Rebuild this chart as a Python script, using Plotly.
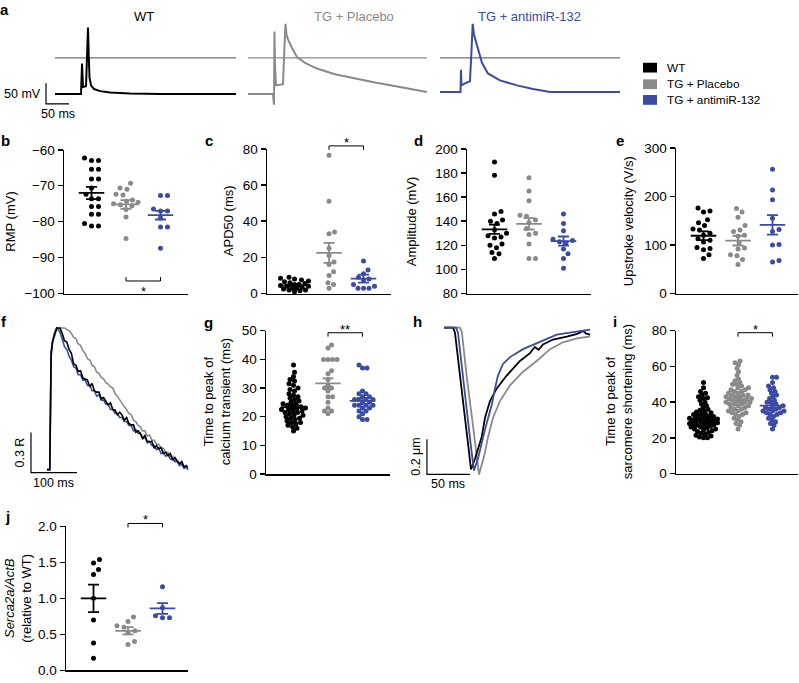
import plotly.graph_objects as go

W, H = 799, 683
BLACK = "#000000"
GRAY = "#8a8a8a"
BLUE = "#3b4ba5"
FONT = "Liberation Sans, Arial, Helvetica, sans-serif"

groups = ["WT", "TG + Placebo", "TG + antimiR-132"]
colors = [BLACK, GRAY, BLUE]

# ---------------- a: action potentials (ms, mV) ----------------
ap_wt_t = [0, 56.5, 58.7, 60.9, 67.4, 70.7, 71.7, 73.3, 75.0, 78.3, 84.8, 97.8, 119.6, 163.0, 228.3, 393.5]
ap_wt_v = [-88, -88, -14, -71, -69, 29, 74, 5, -48, -67, -76, -81, -84.5, -87, -88, -88]
ap_pl_t = [0, 54.4, 56.5, 57.6, 58.7, 60.9, 76.1, 79.4, 81.5, 83.7, 87.0, 95.7, 106.5, 123.9, 150.0, 189.1, 221.7, 276.1, 330.4, 389.1]
ap_pl_v = [-88, -88, -114, 64, -19, -67, -64, 29, 83, 57, 45, 24, 2, -12, -26, -40, -48, -60, -71, -83]
ap_am_t = [0, 44.6, 45.7, 46.7, 54.3, 65.2, 68.5, 71.1, 73.9, 80.4, 91.3, 104.3, 130.4, 167.4, 202.2, 239.1, 391.3]
ap_am_v = [-83, -83, -29, -67, -62, -57, 17, 83, 57, 29, -12, -38, -55, -67, -76, -83, -83]
ap_ref_mV = 0
ap_bar_ms, ap_bar_mV = 50, 50

# ---------------- f: calcium transients (ms, R) ----------------
ca_t = [0, 6, 7.5, 9, 12, 16, 21, 28,
        33, 38, 43, 48, 53, 58, 63, 68, 73, 78, 83, 88, 93, 98, 103, 108, 113, 118, 123, 128,
        133, 138, 143, 148, 153, 158, 163, 168, 173, 178, 183, 188, 193, 198, 203, 208, 213, 218,
        223, 228, 233, 238, 243, 248, 253, 258, 263, 268, 273, 278, 283, 288, 293, 298, 303, 306]
ca_wt = [1.00, 1.00, 1.45, 1.88, 1.96, 2.00, 2.06, 2.06,
         2.02, 1.965, 1.955, 1.90, 1.87, 1.79, 1.78, 1.735, 1.74, 1.685, 1.68, 1.67, 1.62, 1.645, 1.59, 1.58, 1.58, 1.53, 1.54, 1.515,
         1.485, 1.50, 1.45, 1.445, 1.41, 1.43, 1.41, 1.37, 1.39, 1.345, 1.335, 1.335, 1.28, 1.29, 1.27, 1.235, 1.255, 1.21,
         1.21, 1.21, 1.16, 1.18, 1.155, 1.165, 1.12, 1.13, 1.105, 1.12, 1.07, 1.09, 1.065, 1.045, 1.06, 1.02, 1.03, 1.015]
ca_pl = [1.00, 1.00, 1.42, 1.85, 1.95, 2.00, 2.05, 2.06,
         2.06, 2.06, 2.05, 2.04, 2.02, 1.99, 1.98, 1.94, 1.93, 1.89, 1.87, 1.83, 1.82, 1.78, 1.77, 1.73, 1.72, 1.69, 1.68, 1.65,
         1.64, 1.62, 1.61, 1.57, 1.55, 1.52, 1.50, 1.47, 1.45, 1.42, 1.41, 1.37, 1.36, 1.33, 1.32, 1.29, 1.29, 1.25,
         1.26, 1.22, 1.22, 1.19, 1.19, 1.16, 1.16, 1.13, 1.13, 1.10, 1.10, 1.07, 1.07, 1.04, 1.05, 1.02, 1.02, 1.00]
ca_am = [1.00, 1.00, 1.40, 1.85, 1.95, 2.02, 2.06, 2.03,
         1.98, 1.92, 1.90, 1.85, 1.82, 1.77, 1.76, 1.71, 1.71, 1.67, 1.67, 1.63, 1.63, 1.59, 1.59, 1.55, 1.56, 1.52, 1.52, 1.49,
         1.49, 1.45, 1.45, 1.42, 1.42, 1.39, 1.39, 1.36, 1.36, 1.33, 1.33, 1.29, 1.30, 1.27, 1.27, 1.23, 1.24, 1.20,
         1.21, 1.18, 1.18, 1.15, 1.16, 1.12, 1.13, 1.10, 1.11, 1.08, 1.08, 1.06, 1.06, 1.03, 1.04, 1.01, 1.02, 1.00]
ca_bar_ms, ca_bar_R = 100, 0.3

# ---------------- h: sarcomere length (ms, um) ----------------
sl_wt_t = [0, 10.5, 12.8, 18.6, 24.4, 29.1, 31.4, 36.1, 43.8, 47.7, 53.5, 61.3, 72.9, 88.4, 100.0, 105.5, 110.0, 115.1, 126.8, 142.7, 155.0, 161.7, 165.0, 169.8]
sl_wt = [1.800, 1.800, 1.772, 1.511, 1.288, 1.094, 0.994, 1.055, 1.177, 1.288, 1.383, 1.455, 1.528, 1.611, 1.655, 1.690, 1.675, 1.705, 1.733, 1.750, 1.765, 1.782, 1.768, 1.761]
sl_pl_t = [0, 18.6, 20.9, 26.7, 32.6, 37.2, 40.7, 46.5, 51.2, 57.0, 65.1, 76.8, 91.9, 107.8, 123.3, 138.4, 154.3, 169.8]
sl_pl = [1.800, 1.800, 1.772, 1.511, 1.288, 1.094, 0.966, 1.066, 1.177, 1.288, 1.383, 1.472, 1.550, 1.611, 1.678, 1.717, 1.739, 1.750]
sl_am_t = [0, 14.0, 16.3, 22.1, 27.9, 31.4, 34.9, 39.5, 47.7, 55.5, 59.3, 62.8, 68.6, 76.8, 91.9, 111.6, 131.1, 154.3, 169.8]
sl_am = [1.800, 1.800, 1.772, 1.511, 1.288, 1.122, 0.988, 1.055, 1.222, 1.361, 1.455, 1.528, 1.594, 1.633, 1.678, 1.722, 1.761, 1.778, 1.789]
sl_bar_ms, sl_bar_um = 50, 0.2

# ---------------- scatter panels ----------------
rmp_wt = [-62.3, -63.0, -63.0, -65.4, -65.4, -68.1, -68.1, -70.6, -72.4, -73.6, -73.6, -75.8, -75.8, -77.9, -77.9, -80.5, -81.2, -81.2]
rmp_pl = [-69.3, -70.6, -71.0, -72.4, -72.6, -74.0, -74.3, -74.6, -75.0, -75.3, -75.6, -76.6, -78.7, -84.7]
rmp_am = [-72.7, -72.7, -76.5, -77.0, -77.0, -79.0, -81.5, -81.5, -87.4]
rmp_mean = [-72.0, -75.2, -78.2]
rmp_sem = [1.7, 1.2, 1.2]

apd_wt = [9.0, 8.5, 8.0, 7.5, 7.0, 6.5, 6.0, 5.5, 5.0, 5.0, 4.5, 4.0, 4.0, 3.5, 3.0, 3.0, 2.5, 2.0, 2.0, 1.5, 1.0]
apd_pl = [76.5, 51.0, 34.0, 33.0, 25.0, 21.0, 17.5, 16.0, 12.0, 10.0, 6.0, 5.0, 3.0]
apd_am = [18.0, 13.0, 11.0, 9.0, 8.0, 7.5, 5.0, 4.0, 3.0, 3.0, 3.0]
apd_mean = [4.5, 22.5, 8.3]
apd_sem = [0.6, 5.5, 2.2]

amp_wt = [189, 178, 148, 146, 141, 140, 138, 133, 130, 128, 127, 126, 121, 120, 118, 114, 113, 109]
amp_pl = [176, 165, 157, 145, 144, 141, 139, 134, 130, 129, 121, 109, 109]
amp_am = [146, 138, 132, 125, 124, 123, 122, 117, 113, 109, 101]
amp_mean = [133.3, 137.8, 123.5]
amp_sem = [3.8, 4.7, 3.8]

vel_wt = [176, 170, 168, 152, 146, 140, 133, 131, 124, 120, 113, 110, 106, 95, 93, 90, 80, 72]
vel_pl = [175, 168, 157, 140, 131, 128, 120, 118, 105, 94, 92, 80, 78, 70, 60]
vel_am = [256, 213, 193, 155, 132, 128, 101, 100, 68, 65]
vel_mean = [119, 109, 141.5]
vel_sem = [9, 10, 20]

cat_wt = [38, 35.5, 34, 33, 32.5, 31.5, 31, 30, 29.5, 29, 28, 27.5, 27, 26.5, 26, 25.5, 25, 24.5, 24.5, 24,
          23.5, 23.5, 23, 23, 22.5, 22.5, 22, 22, 21.5, 21.5, 21, 20.5, 20.5, 20, 19.5, 19.5, 19, 18.5, 18, 18,
          17.5, 17, 16.5, 16, 15]
cat_pl = [45, 44, 40, 40, 40, 40, 36, 35, 33, 31, 30, 30, 29, 27, 27, 25, 23, 22, 22, 21]
cat_am = [38, 37, 37, 29, 28, 28, 27, 27, 26, 26, 26, 26, 25, 25, 24, 24, 24, 24, 23, 23, 22, 22, 21, 20, 19, 19]
cat_mean = [23.3, 31.6, 25.5]
cat_sem = [0.8, 1.8, 1.1]

sar_wt = [51, 48, 46, 45, 44, 43, 42.5, 42, 41, 40, 39, 38, 37, 36, 35.5, 35, 34.5, 34, 33.5, 33,
          33, 32.5, 32, 32, 31.5, 31, 31, 30.5, 30.5, 30, 30, 29.5, 29.5, 29, 29, 28.5, 28.5, 28, 28, 27.5,
          27.5, 27, 27, 26.5, 26, 26, 25.5, 25, 25, 24.5, 24, 23.5, 23, 22.5, 22, 21.5, 21, 20.5, 20, 20]
sar_pl = [63, 62, 61, 59, 57, 55, 53, 52, 51, 50, 50, 49, 48, 48, 47, 47, 46, 46, 45, 45, 44, 44, 44, 43, 43, 43,
          42, 42, 42, 41, 41, 41, 40, 40, 40, 39, 39, 39, 38, 38, 37, 37, 36, 36, 35, 35, 34, 34, 33, 33, 32, 31,
          30, 29, 28, 27, 25]
sar_am = [54, 54, 51, 49, 48, 47, 46, 45, 44, 43, 42, 41, 40, 40, 39, 38, 38, 37, 37, 36, 36, 35, 35, 35, 34, 34,
          33, 33, 32, 31, 30, 29, 28, 27, 25]
sar_mean = [30.5, 41.0, 38.0]
sar_sem = [1.0, 1.2, 1.3]

ser_wt = [1.54, 1.49, 1.40, 1.33, 1.00, 0.70, 0.38, 0.17]
ser_pl = [0.74, 0.68, 0.62, 0.60, 0.55, 0.52, 0.40, 0.36]
ser_am = [1.16, 0.87, 0.76, 0.73, 0.73]
ser_mean = [1.00, 0.55, 0.86]
ser_sem = [0.19, 0.05, 0.075]

# ==========================================================
fig = go.Figure()
layout = dict(width=W, height=H, margin=dict(l=0, r=0, t=0, b=0, pad=0), autosize=False,
              paper_bgcolor="white", plot_bgcolor="white", showlegend=False,
              font=dict(family=FONT, color="black", size=13))
annotations = []
shapes = []
_n = [0]


def new_axes(xpx, ypx, xr, yr):
    _n[0] += 1
    n = _n[0]
    xn = "x" if n == 1 else f"x{n}"
    yn = "y" if n == 1 else f"y{n}"
    xa = dict(domain=[xpx[0] / W, xpx[1] / W], range=xr, anchor=yn, visible=False, fixedrange=True)
    ya = dict(domain=[1 - ypx[1] / H, 1 - ypx[0] / H], range=yr, anchor=xn, visible=False, fixedrange=True)
    layout["xaxis" if n == 1 else f"xaxis{n}"] = xa
    layout["yaxis" if n == 1 else f"yaxis{n}"] = ya
    return xn, yn, xa, ya


def to_paper(xa, ya, x, y):
    xd, xr = xa["domain"], xa["range"]
    yd, yr = ya["domain"], ya["range"]
    px = xd[0] + (x - xr[0]) / (xr[1] - xr[0]) * (xd[1] - xd[0])
    py = yd[0] + (y - yr[0]) / (yr[1] - yr[0]) * (yd[1] - yd[0])
    return px, py


def line(xn, yn, x, y, color, width):
    fig.add_trace(go.Scatter(x=x, y=y, mode="lines", line=dict(color=color, width=width),
                             xaxis=xn, yaxis=yn, hoverinfo="skip", cliponaxis=False))


def pann(text, xpx, ypx, size=13, color="black", angle=0, xanchor="center", yanchor="middle", bold=False):
    if bold:
        text = f"<b>{text}</b>"
    annotations.append(dict(text=text, x=xpx / W, y=1 - ypx / H, xref="paper", yref="paper",
                            showarrow=False, font=dict(size=size, color=color, family=FONT),
                            textangle=angle, xanchor=xanchor, yanchor=yanchor))


# ---------- panel a ----------
AP_Y = (8, 112)
AP_YR = [-142.9, 104.8]
xa_specs = [((38, 238), [-37.0, 397.8]), ((246, 430), [-4.3, 395.7]), ((438, 622), [-4.3, 395.7])]
ap_sets = [(ap_wt_t, ap_wt_v), (ap_pl_t, ap_pl_v), (ap_am_t, ap_am_v)]
ref_colors = ["#707070", GRAY, "#707070"]
ap_axes = []
for (xpx, xr), (tt, vv), col, rc in zip(xa_specs, ap_sets, colors, ref_colors):
    xn, yn, _, _ = new_axes(xpx, AP_Y, xr, AP_YR)
    ap_axes.append((xn, yn))
    line(xn, yn, [min(tt), max(tt)], [ap_ref_mV, ap_ref_mV], rc, 1.3)
    line(xn, yn, tt, vv, col, 2.0)

xn, yn = ap_axes[0]
bx0, by0 = -19.6, -111.9
line(xn, yn, [bx0, bx0, bx0 + ap_bar_ms], [by0 + ap_bar_mV, by0, by0], "black", 1.2)
annotations.append(dict(text="50 mV", x=bx0, y=by0 + ap_bar_mV / 2, xref=xn, yref=yn, showarrow=False,
                        xanchor="right", yanchor="middle", xshift=-3, font=dict(size=12.5)))
annotations.append(dict(text="50 ms", x=bx0 + ap_bar_ms / 2, y=by0, xref=xn, yref=yn, showarrow=False,
                        xanchor="center", yanchor="top", yshift=-1, font=dict(size=12.5)))

pann("WT", 144, 10, size=13, color=BLACK)
pann("TG + Placebo", 354, 10, size=13, color=GRAY)
pann("TG + antimiR-132", 529, 10, size=13, color=BLUE)

for (yc, col, name) in [(62, BLACK, groups[0]), (79, GRAY, groups[1]), (95, BLUE, groups[2])]:
    shapes.append(dict(type="rect", xref="paper", yref="paper", x0=643 / W, x1=657 / W,
                       y0=1 - (yc + 5) / H, y1=1 - (yc - 5) / H, fillcolor=col, line=dict(width=0)))
    pann(name, 665, yc, size=11.8, xanchor="left")

# ---------- panel f ----------
xn, yn, _, _ = new_axes((10, 200), (320, 495), [-80.4, 332.6], [0.839, 2.120])
line(xn, yn, ca_t, ca_pl, GRAY, 1.6)
line(xn, yn, ca_t, ca_am, BLUE, 1.6)
line(xn, yn, ca_t, ca_wt, BLACK, 1.6)
fx0, fy0 = -34.8, 0.978
line(xn, yn, [fx0, fx0, fx0 + ca_bar_ms], [fy0 + ca_bar_R, fy0, fy0], "black", 1.2)
annotations.append(dict(text="0.3 R", x=fx0, y=fy0 + ca_bar_R / 2, xref=xn, yref=yn, showarrow=False,
                        xanchor="right", yanchor="middle", xshift=-2, textangle=-90, font=dict(size=12.5)))
annotations.append(dict(text="100 ms", x=fx0 + ca_bar_ms / 2, y=fy0, xref=xn, yref=yn, showarrow=False,
                        xanchor="center", yanchor="top", yshift=-1, font=dict(size=12.5)))

# ---------- panel h ----------
xn, yn, _, _ = new_axes((410, 600), (320, 495), [-39.5, 181.4], [0.871, 1.844])
line(xn, yn, sl_pl_t, sl_pl, GRAY, 1.8)
line(xn, yn, sl_wt_t, sl_wt, BLACK, 1.8)
line(xn, yn, sl_am_t, sl_am, BLUE, 1.8)
hx0, hy0 = -19.8, 0.966
line(xn, yn, [hx0, hx0, hx0 + sl_bar_ms], [hy0 + sl_bar_um, hy0, hy0], "black", 1.2)
annotations.append(dict(text="0.2 μm", x=hx0, y=hy0 + sl_bar_um / 2, xref=xn, yref=yn, showarrow=False,
                        xanchor="right", yanchor="middle", xshift=-2, textangle=-90, font=dict(size=12.5)))
annotations.append(dict(text="50 ms", x=hx0 + sl_bar_ms / 2, y=hy0, xref=xn, yref=yn, showarrow=False,
                        xanchor="center", yanchor="top", yshift=-1, font=dict(size=12.5)))

# ---------- dot plots ----------
PPU_X = 34.5
LEAD = 27.5


def swarm(vals, ppu_y, dmin, cap):
    order = sorted(range(len(vals)), key=lambda i: vals[i])
    cands = [0.0]
    k = 1
    while k * 0.5 <= cap:
        cands += [k * 0.5, -k * 0.5]
        k += 1
    placed = []
    off = [0.0] * len(vals)
    for i in order:
        y = vals[i] * ppu_y
        chosen, bestd, bestc = None, -1, 0.0
        for c in cands:
            dm = min([((c - px) ** 2 + (y - py) ** 2) ** 0.5 for px, py in placed] or [1e9])
            if dm >= dmin:
                chosen = c
                break
            if dm > bestd:
                bestd, bestc = dm, c
        if chosen is None:
            chosen = bestc
        placed.append((chosen, y))
        off[i] = chosen
    return off


def dot_panel(x0px, width, ytop, ybot, yr, tickvals, data, means, sems, dmin, cap,
              tickfmt=None, bracket=None):
    xr = [-LEAD / PPU_X, (width - LEAD) / PPU_X]
    xn, yn, xa, ya = new_axes((x0px, x0px + width), (ytop, ybot), xr, yr)
    xa.update(visible=True, showline=True, linecolor="black", linewidth=1.5, ticks="",
              showticklabels=False, showgrid=False, zeroline=False)
    ya.update(visible=True, showline=True, linecolor="black", linewidth=1.5, ticks="outside",
              ticklen=5, tickwidth=1.5, tickcolor="black", tickvals=tickvals,
              tickfont=dict(size=13.5, color="black", family=FONT), showgrid=False, zeroline=False)
    if tickfmt:
        ya["tickformat"] = tickfmt
    ppu_y = (ybot - ytop) / (yr[1] - yr[0])
    for gi, (vals, col) in enumerate(zip(data, colors)):
        off = swarm(vals, ppu_y, dmin, cap)
        fig.add_trace(go.Scatter(x=[gi + o / PPU_X for o in off], y=vals, mode="markers",
                                 marker=dict(size=5, color=col, line=dict(width=0)),
                                 xaxis=xn, yaxis=yn, cliponaxis=False, hoverinfo="skip"))
    for gi, (m, s, col) in enumerate(zip(means, sems, colors)):
        hw, cw = 0.37, 0.16
        mx = [gi - hw, gi + hw, None, gi, gi, None, gi - cw, gi + cw, None, gi - cw, gi + cw]
        my = [m, m, None, m - s, m + s, None, m + s, m + s, None, m - s, m - s]
        fig.add_trace(go.Scatter(x=mx, y=my, mode="lines", line=dict(color=col, width=1.8),
                                 xaxis=xn, yaxis=yn, cliponaxis=False, hoverinfo="skip",
                                 connectgaps=False))
    if bracket:
        g1, g2, yb, below, star = bracket
        d = 4 / ppu_y
        ye = yb + d if below else yb - d
        pts = [to_paper(xa, ya, gx, gy) for gx, gy in [(g1, ye), (g1, yb), (g2, yb), (g2, ye)]]
        path = "M " + " L ".join(f"{p[0]:.5f},{p[1]:.5f}" for p in pts)
        shapes.append(dict(type="path", path=path, xref="paper", yref="paper",
                           line=dict(color="black", width=1)))
        sx, sy = to_paper(xa, ya, (g1 + g2) / 2, yb)
        annotations.append(dict(text=star, x=sx, y=sy, xref="paper", yref="paper", showarrow=False,
                                xanchor="center", yanchor="middle",
                                yshift=(-10.5 if below else 3.5), font=dict(size=13)))
    return xn, yn


dot_panel(64, 124, 146, 293, [-100, -60], [-100, -90, -80, -70, -60], [rmp_wt, rmp_pl, rmp_am],
          rmp_mean, rmp_sem, 7, 14, bracket=(1, 2, -96.5, True, "*"))
dot_panel(267, 124, 145, 293, [0, 80], [0, 20, 40, 60, 80], [apd_wt, apd_pl, apd_am],
          apd_mean, apd_sem, 5.5, 14, bracket=(1, 2, 81.6, False, "*"))
dot_panel(467, 124, 145, 293, [80, 200], [80, 100, 120, 140, 160, 180, 200], [amp_wt, amp_pl, amp_am],
          amp_mean, amp_sem, 6.5, 14)
dot_panel(676, 122, 144, 293, [0, 300], [0, 100, 200, 300], [vel_wt, vel_pl, vel_am],
          vel_mean, vel_sem, 6.5, 14)
dot_panel(266, 124, 331, 477.5, [0, 50], [0, 10, 20, 30, 40, 50], [cat_wt, cat_pl, cat_am],
          cat_mean, cat_sem, 4.5, 14, bracket=(1, 2, 49.3, False, "**"))
dot_panel(676, 122, 331, 477, [0, 80], [0, 20, 40, 60, 80], [sar_wt, sar_pl, sar_am],
          sar_mean, sar_sem, 3.8, 14, bracket=(1, 2, 78.9, False, "*"))
dot_panel(66, 122, 531, 678.3, [0, 2], [0, 0.5, 1.0, 1.5, 2.0], [ser_wt, ser_pl, ser_am],
          ser_mean, ser_sem, 7, 14, tickfmt=".1f", bracket=(1, 2, 2.04, False, "*"))

pann("RMP (mV)", 11, 219.5, angle=-90)
pann("APD50 (ms)", 228, 219, angle=-90)
pann("Amplitude (mV)", 411, 219, angle=-90)
pann("Upstroke velocity (V/s)", 628, 219, angle=-90)
pann("Time to peak of<br>calcium transient (ms)", 217, 404, angle=-90)
pann("Time to peak of<br>sarcomere shortening (ms)", 619, 404, angle=-90)
pann("<i>Serca2a/ActB</i><br>(relative to WT)", 18, 605, angle=-90)

for lt, x, y in [("a", 4, 3), ("b", 5, 137), ("c", 209, 137), ("d", 418, 137), ("e", 620, 137),
                 ("f", 4, 322), ("g", 208, 323), ("h", 417, 322), ("i", 615, 322), ("j", 7, 521)]:
    pann(lt, x, y, size=15, bold=True)

layout["annotations"] = annotations
layout["shapes"] = shapes
fig.update_layout(**layout)
fig.write_html("out.html",
               config={"displayModeBar": False, "staticPlot": True},
               post_script="document.body.style.margin='0px';document.body.style.padding='0px';"
                           "document.documentElement.style.overflow='hidden';")
